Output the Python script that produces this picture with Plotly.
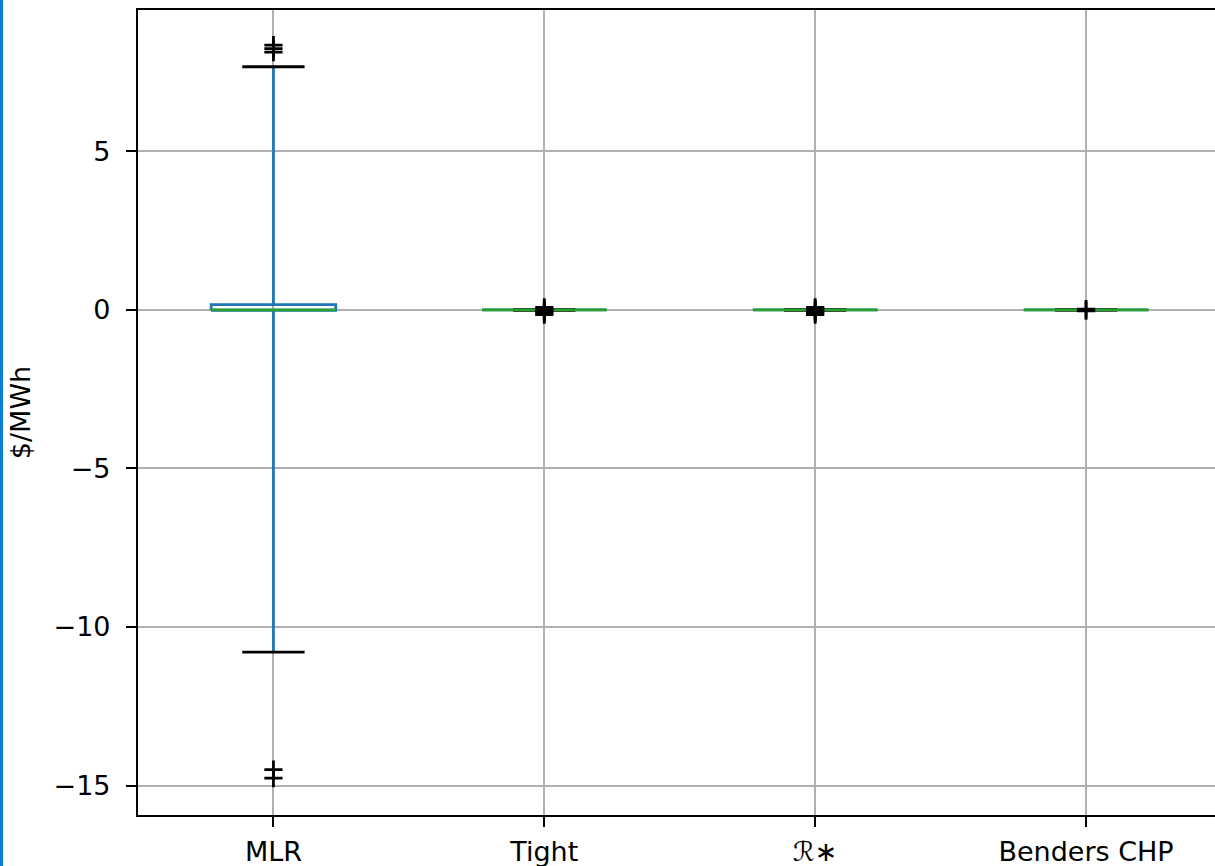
import plotly.graph_objects as go

# ---- data ----
categories = ["MLR", "Tight", "ℛ∗", "Benders CHP"]
positions = [1, 2, 3, 4]
q1_vals = [-0.01, 0.0, 0.0, 0.0]
median_vals = [0.0, 0.0, 0.0, 0.0]
q3_vals = [0.17, 0.005, 0.005, 0.005]
lower_whisker = [-10.79, -0.01, -0.01, -0.005]
upper_whisker = [7.67, 0.01, 0.01, 0.005]
outliers = [
    [8.35, 8.24, 8.13, -14.50, -14.77],
    [0.08, 0.03, -0.04, -0.09, -0.15],
    [0.08, 0.03, -0.04, -0.09, -0.15],
    [0.025, -0.025],
]
y_ticks = [-15, -10, -5, 0, 5]
y_tick_text = ["−15", "−10", "−5", "0", "5"]

BOX_W = 0.46
BLUE = "#1f77b4"
GREEN = "#2ca02c"
LW = 2.8

fig = go.Figure()

for i, pos in enumerate(positions):
    l, r = pos - BOX_W / 2, pos + BOX_W / 2
    # box
    fig.add_trace(go.Scatter(
        x=[l, r, r, l, l],
        y=[q1_vals[i], q1_vals[i], q3_vals[i], q3_vals[i], q1_vals[i]],
        mode="lines", line=dict(color=BLUE, width=LW), hoverinfo="skip"))
    # whiskers
    fig.add_trace(go.Scatter(
        x=[pos, pos, None, pos, pos],
        y=[q1_vals[i], lower_whisker[i], None, q3_vals[i], upper_whisker[i]],
        mode="lines", line=dict(color=BLUE, width=LW), hoverinfo="skip"))
    # caps
    cl, cr = pos - BOX_W / 4, pos + BOX_W / 4
    fig.add_trace(go.Scatter(
        x=[cl, cr, None, cl, cr],
        y=[lower_whisker[i], lower_whisker[i], None, upper_whisker[i], upper_whisker[i]],
        mode="lines", line=dict(color="black", width=LW), hoverinfo="skip"))
    # median
    fig.add_trace(go.Scatter(
        x=[l, r], y=[median_vals[i], median_vals[i]],
        mode="lines", line=dict(color=GREEN, width=LW), hoverinfo="skip"))
    # fliers
    fig.add_trace(go.Scatter(
        x=[pos] * len(outliers[i]), y=outliers[i],
        mode="markers",
        marker=dict(symbol="cross-thin", size=13, color="black",
                    line=dict(color="black", width=LW)),
        hoverinfo="skip"))

font = dict(family="DejaVu Sans", size=27, color="black")

fig.update_layout(
    width=1215, height=866, autosize=False,
    margin=dict(l=138, r=0, t=10, b=51, pad=0),
    paper_bgcolor="white", plot_bgcolor="white",
    showlegend=False, font=font,
    xaxis=dict(
        range=[0.5, 4.476], tickmode="array", tickvals=positions, ticktext=categories,
        showgrid=True, gridcolor="#b0b0b0", gridwidth=2.2,
        showline=True, linecolor="black", linewidth=2.2, mirror=True,
        ticks="outside", ticklen=10, tickwidth=2.2, tickcolor="black",
        zeroline=False, tickfont=font, ticklabelstandoff=1, automargin=False,
    ),
    yaxis=dict(
        range=[-15.93, 9.46], tickmode="array", tickvals=y_ticks, ticktext=y_tick_text,
        showgrid=True, gridcolor="#b0b0b0", gridwidth=2.2,
        showline=True, linecolor="black", linewidth=2.2, mirror=False,
        ticks="outside", ticklen=10, tickwidth=2.2, tickcolor="black",
        zeroline=False, tickfont=font, ticklabelstandoff=10, automargin=False,
        title=dict(text="$/MWh", font=font, standoff=15),
    ),
    shapes=[dict(
        type="rect", xref="paper", yref="paper",
        x0=-138 / 1077, x1=-135 / 1077, y0=-51 / 805, y1=1 + 10 / 805,
        fillcolor="#0a7fd0", line=dict(width=0), layer="above")],
)

fig.write_html(
    "out.html",
    config={"displayModeBar": False},
    post_script="document.body.style.margin='0px';document.body.style.overflow='hidden';",
)
